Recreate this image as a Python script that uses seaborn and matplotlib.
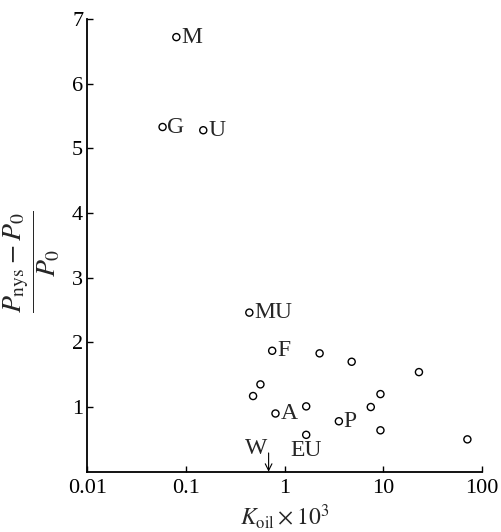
import numpy as np
import pandas as pd
import matplotlib
matplotlib.use("Agg")
import matplotlib.pyplot as plt
import seaborn as sns

# Data
k_oil = [0.080, 0.058, 0.150, 0.44, 0.75, 2.27, 4.8, 23.1, 0.57, 0.48, 9.4,
         0.81, 1.66, 7.5, 3.56, 1.66, 9.4, 71.6]
ratio = [6.72, 5.33, 5.28, 2.46, 1.87, 1.83, 1.70, 1.54, 1.35, 1.17, 1.20,
         0.90, 1.01, 1.00, 0.78, 0.57, 0.64, 0.50]
labels = ["M", "G", "U", "MU", "F", "", "", "", "", "", "",
          "A", "", "", "P", "EU", "", ""]
w_value = 0.69
x_ticks = [0.01, 0.1, 1, 10, 100]
x_tick_labels = ["0.01", "0.1", "1", "10", "100"]
y_ticks = [1, 2, 3, 4, 5, 6, 7]

df = pd.DataFrame({"k": k_oil, "r": ratio, "lab": labels})

sns.set_theme(style="ticks")
plt.rcParams["font.family"] = ["Liberation Serif", "DejaVu Serif"]
plt.rcParams["mathtext.fontset"] = "stix"

fig = plt.figure(figsize=(5.01, 5.32), dpi=100)
ax = fig.add_axes([87.3 / 501, 1 - 471.7 / 532, (481.7 - 87.3) / 501, (471.7 - 19) / 532])

sns.scatterplot(data=df, x="k", y="r", ax=ax, marker="o", s=26,
                facecolor="none", edgecolor="black", linewidth=1.0)

ax.set_xscale("log")
ax.set_xlim(0.01, 100)
ax.set_ylim(0, 7)
ax.set_xticks(x_ticks)
ax.set_xticklabels(x_tick_labels)
ax.minorticks_off()
ax.set_yticks(y_ticks)
ax.set_yticklabels([str(v) for v in y_ticks])
for s in ["top", "right"]:
    ax.spines[s].set_visible(False)
for s in ["left", "bottom"]:
    ax.spines[s].set_linewidth(1.3)
    ax.spines[s].set_color("black")
ax.tick_params(axis="both", direction="in", length=4.5, width=1, colors="black",
               labelsize=16)
ax.tick_params(axis="x", pad=5)
ax.tick_params(axis="y", pad=3)

lab_size = 17
for k, r, lab in zip(k_oil, ratio, labels):
    if not lab:
        continue
    if lab == "EU":
        ax.annotate(lab, (k, r), xytext=(0, -11.5), textcoords="offset points",
                    ha="center", va="center", fontsize=lab_size)
    else:
        ax.annotate(lab, (k, r), xytext=(3.5, 0), textcoords="offset points",
                    ha="left", va="center", fontsize=lab_size)

# W arrow
ax.annotate("", xy=(w_value, 0), xytext=(w_value, 0.29),
            arrowprops=dict(arrowstyle="->", lw=0.8, color="black",
                            shrinkA=0, shrinkB=0))
ax.annotate("W", (w_value, 0.36), xytext=(-9, 0), textcoords="offset points",
            ha="center", va="center", fontsize=lab_size)

ax.set_xlabel(r"$K_{\mathrm{oil}}\times10^3$", fontsize=17, labelpad=3)
ax.set_ylabel("")
fig.text(32 / 501, 1 - 262 / 532, r"$\dfrac{P_{\mathrm{nys}}-P_0}{P_0}$",
         rotation=90, ha="center", va="center", fontsize=20)

fig.savefig("out.png", dpi=100)
